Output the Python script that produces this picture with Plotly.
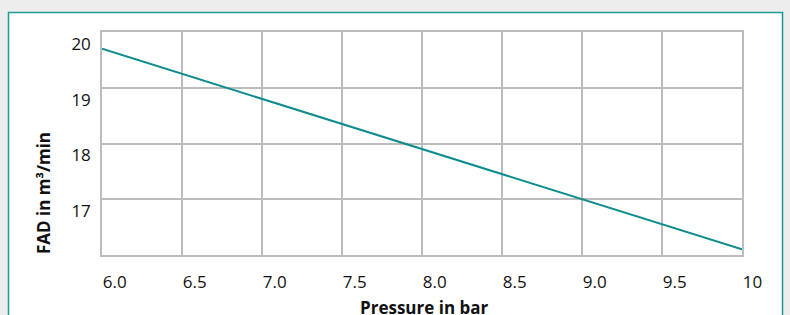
import plotly.graph_objects as go

pressure = [6.0, 6.5, 7.0, 7.5, 8.0, 8.5, 9.0, 9.5, 10.0]
fad = [19.7, 19.25, 18.8, 18.35, 17.9, 17.45, 17.0, 16.55, 16.1]
x_ticks = [6.0, 6.5, 7.0, 7.5, 8.0, 8.5, 9.0, 9.5, 10.0]
x_labels = ["6.0", "6.5", "7.0", "7.5", "8.0", "8.5", "9.0", "9.5", "10"]
y_ticks = [17, 18, 19, 20]
y_labels = ["17", "18", "19", "20"]

W, H = 790, 315
L, R, T, B = 102, 48, 32, 60
pw, ph = W - L - R, H - T - B

def px(x):
    return (x - L) / pw

def py(y):
    return (H - B - y) / ph

TEAL = "#0e8c8c"
GRID = "#bcbcbc"
FONT = "Open Sans"

fig = go.Figure()
fig.add_trace(go.Scatter(x=pressure, y=fad, mode="lines",
                         line=dict(color=TEAL, width=2), hoverinfo="skip"))

fig.add_shape(type="rect", xref="paper", yref="paper", layer="below",
              x0=px(8.5), x1=px(782.5), y0=py(330), y1=py(12.5),
              fillcolor="white", line=dict(color="#1f9b98", width=1.5))

fig.add_annotation(xref="paper", yref="paper", x=px(43), y=py(193),
                   xanchor="center", yanchor="middle",
                   text="<b>FAD in m³/min</b>", textangle=-90, showarrow=False,
                   font=dict(family=FONT, size=17, color="#111"))

fig.add_annotation(xref="paper", yref="paper", x=px(424), y=py(307),
                   xanchor="center", yanchor="middle",
                   text="<b>Pressure in bar</b>", showarrow=False,
                   font=dict(family=FONT, size=17, color="#111"))

fig.update_layout(
    width=W, height=H,
    margin=dict(l=L, r=R, t=T, b=B, pad=0),
    paper_bgcolor="#ededed", plot_bgcolor="white",
    showlegend=False,
    font=dict(family=FONT, size=17, color="#111"),
    xaxis=dict(range=[6, 10], tickvals=x_ticks, ticktext=x_labels,
               showgrid=True, gridcolor=GRID, gridwidth=1.5,
               showline=True, linecolor=GRID, linewidth=1.5, mirror=True,
               ticks="", ticklabelstandoff=11, automargin=False,
               ticklabelposition="outside right", zeroline=False),
    yaxis=dict(range=[16, 20], tickvals=y_ticks, ticktext=y_labels,
               showgrid=True, gridcolor=GRID, gridwidth=1.5,
               showline=True, linecolor=GRID, linewidth=1.5, mirror=True,
               ticks="", ticklabelstandoff=6, automargin=False,
               ticklabelposition="outside bottom", zeroline=False),
)

fig.write_html("out.html", config={"displayModeBar": False},
               post_script="document.body.style.margin='0';")
